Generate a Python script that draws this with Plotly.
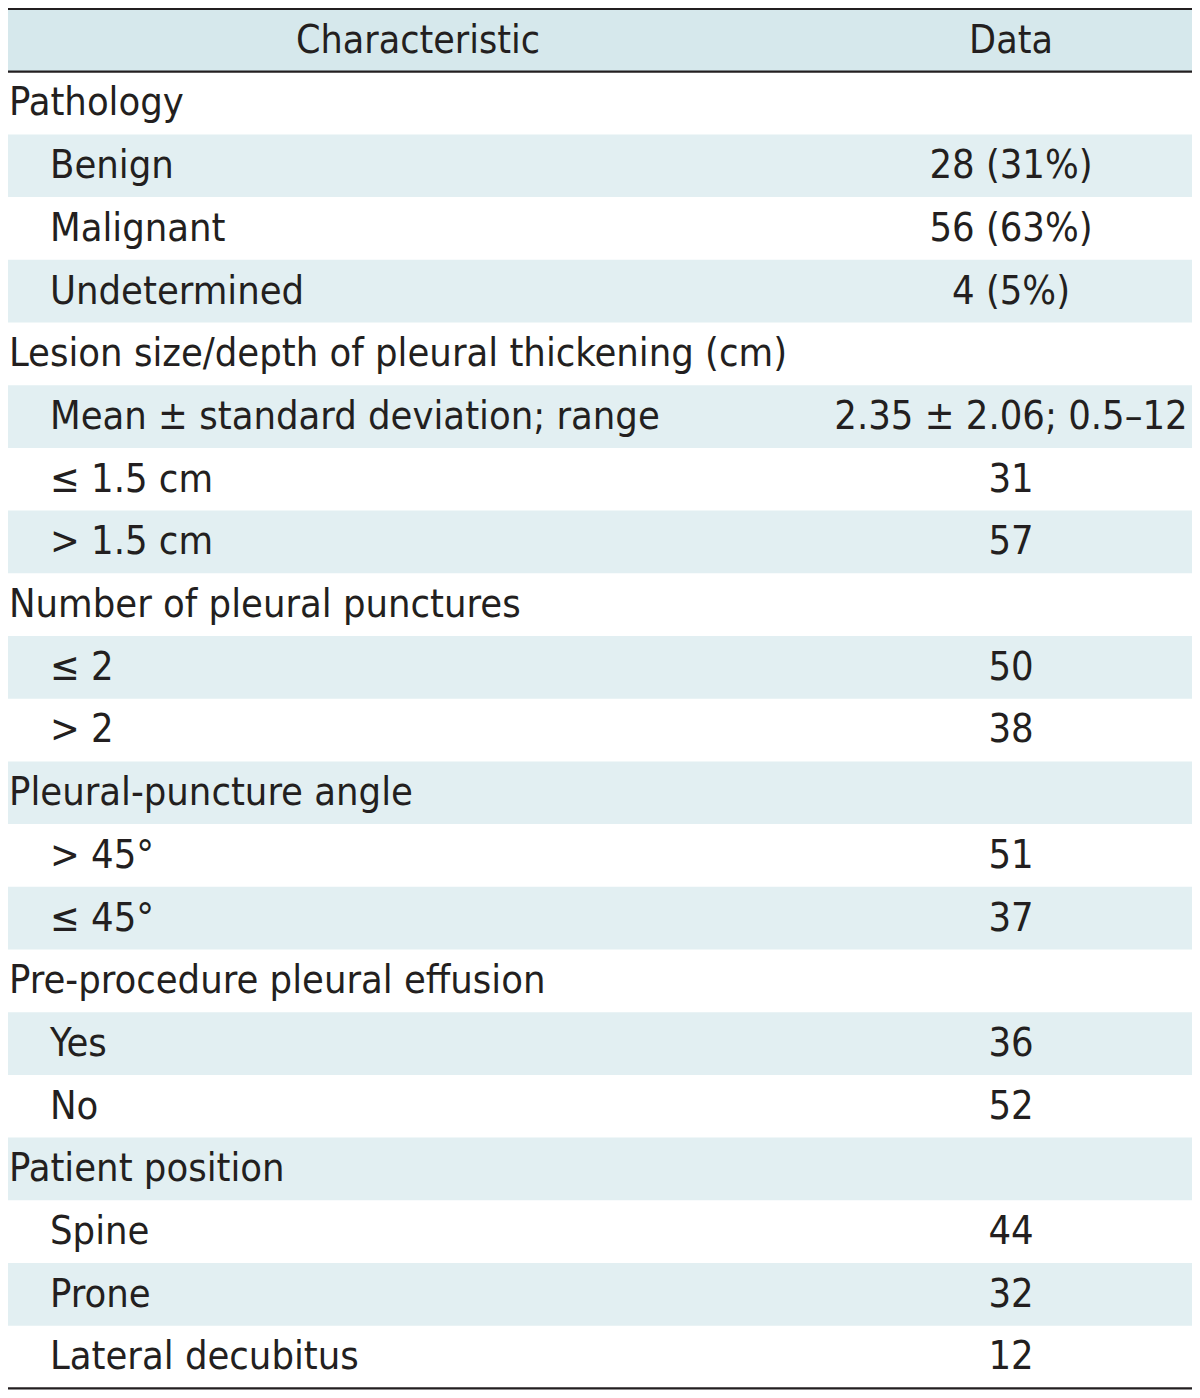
import plotly.graph_objects as go

header_labels = ["Characteristic", "Data"]
characteristics = [
    "Pathology", "Benign", "Malignant", "Undetermined",
    "Lesion size/depth of pleural thickening (cm)",
    "Mean ± standard deviation; range", "≤ 1.5 cm", "> 1.5 cm",
    "Number of pleural punctures", "≤ 2", "> 2",
    "Pleural-puncture angle", "> 45°", "≤ 45°",
    "Pre-procedure pleural effusion", "Yes", "No",
    "Patient position", "Spine", "Prone", "Lateral decubitus",
]
data_values = [
    "", "28 (31%)", "56 (63%)", "4 (5%)",
    "",
    "2.35 ± 2.06; 0.5–12", "31", "57",
    "", "50", "38",
    "", "51", "37",
    "", "36", "52",
    "", "44", "32", "12",
]
indent_level = [0, 1, 1, 1, 0, 1, 1, 1, 0, 1, 1, 0, 1, 1, 0, 1, 1, 0, 1, 1, 1]

# ---- layout constants (page body has an 8px margin) ----
FIG_W, FIG_H = 1192, 1390
TABLE_W = 1184            # table spans x 0..TABLE_W in axis units (px)
U = 62.7                  # row height in px
HEADER_FILL = "#d6e8ec"
ROW_FILL = "#e2eff2"
TEXT = "#231f20"
FONT = "DejaVu Sans Condensed"
FS = 39.5
X_TEXT = 1
X_INDENT = 42
X_DATA = 1003
X_HEAD1 = 410
TEXT_SHIFT = 2.5 / U      # nudge text slightly down within each row

n = len(characteristics)
rows = list(range(n))
text_y = [r + TEXT_SHIFT for r in rows]
y_top = -1.5 - 1.0 / U
y_bot = y_top + FIG_H / U

fig = go.Figure()

# header fill
fig.add_shape(type="rect", xref="x", yref="y", x0=0, x1=TABLE_W, y0=-1.5, y1=-0.5,
              fillcolor=HEADER_FILL, line=dict(width=0), layer="below")
# zebra fills
for i in rows:
    if i % 2 == 1:
        fig.add_shape(type="rect", xref="x", yref="y", x0=0, x1=TABLE_W,
                      y0=i - 0.5, y1=i + 0.5, fillcolor=ROW_FILL,
                      line=dict(width=0), layer="below")
# rules
for yy, w in [(-1.5, 2), (-0.5, 2.2), (n - 0.5, 2.2)]:
    fig.add_shape(type="line", xref="x", yref="y", x0=0, x1=TABLE_W, y0=yy, y1=yy,
                  line=dict(color=TEXT, width=w))

# header text
fig.add_trace(go.Scatter(
    x=[X_HEAD1, X_DATA], y=[-1 + TEXT_SHIFT, -1 + TEXT_SHIFT], text=header_labels,
    mode="text", textposition="middle center",
    textfont=dict(family=FONT, size=FS - 0.5, color=TEXT),
    hoverinfo="skip", showlegend=False, cliponaxis=False))

# characteristic column
fig.add_trace(go.Scatter(
    x=[X_INDENT if lvl else X_TEXT for lvl in indent_level], y=text_y,
    text=characteristics, mode="text", textposition="middle right",
    textfont=dict(family=FONT, size=FS, color=TEXT),
    hoverinfo="skip", showlegend=False, cliponaxis=False))

# data column
fig.add_trace(go.Scatter(
    x=[X_DATA] * n, y=text_y, text=data_values, mode="text",
    textposition="middle center",
    textfont=dict(family=FONT, size=FS, color=TEXT),
    hoverinfo="skip", showlegend=False, cliponaxis=False))

fig.update_xaxes(range=[0, TABLE_W], visible=False, fixedrange=True)
fig.update_yaxes(range=[y_bot, y_top], visible=False, fixedrange=True)
fig.update_layout(width=FIG_W, height=FIG_H, margin=dict(l=0, r=FIG_W - TABLE_W, t=0, b=0),
                  paper_bgcolor="white", plot_bgcolor="white")
fig.write_html("out.html")
